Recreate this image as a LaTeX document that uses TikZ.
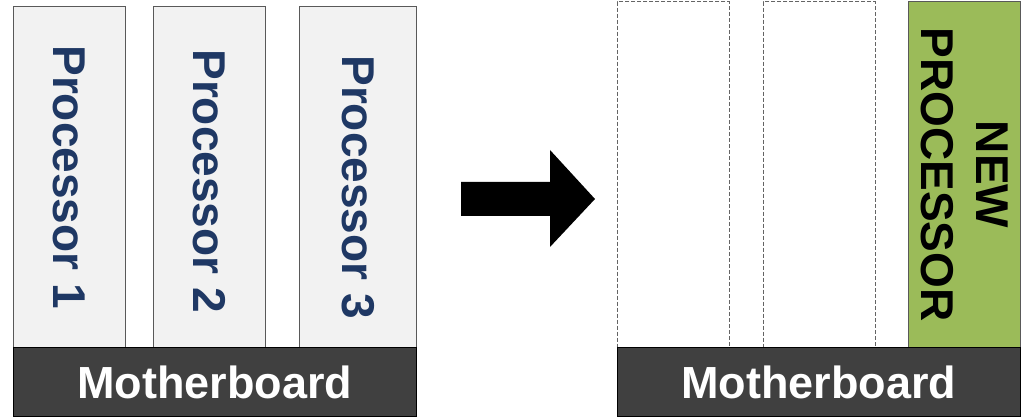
\documentclass[tikz,border=0pt]{standalone}
\usepackage{fontspec}
\setmainfont{Liberation Sans}
\usepackage{tikz}
\usetikzlibrary{positioning}
\definecolor{procgray}{RGB}{242,242,242}
\definecolor{boardgray}{RGB}{64,64,64}
\definecolor{procblue}{RGB}{31,56,100}
\definecolor{newgreen}{RGB}{155,187,89}
\definecolor{edgegray}{RGB}{89,89,89}
\definecolor{dashgray}{RGB}{100,100,100}

\tikzset{
  slot/.style={draw=edgegray, line width=0.8pt, minimum width=112pt, minimum height=341pt, inner sep=0pt, anchor=south west},
  procbox/.style={slot, fill=procgray},
  emptyslot/.style={slot, draw=dashgray, dash pattern=on 4pt off 2pt},
  newbox/.style={slot, fill=newgreen},
  proctext/.style={rotate=-90, font=\bfseries\fontsize{46}{55}\selectfont, text=procblue},
  newtext/.style={rotate=-90, align=center, font=\bfseries\fontsize{46}{55}\selectfont, text=black},
  board/.style={draw=black, line width=0.8pt, fill=boardgray, minimum width=403pt, minimum height=69pt, inner sep=0pt, anchor=south west,
    text=white, font=\bfseries\fontsize{45}{54}\selectfont}
}

\begin{document}
\begin{tikzpicture}[x=1pt, y=1pt]
  \useasboundingbox (0,0) rectangle (1021,417);

  % before: three processors
  \node[procbox] (p1) at (13,69) {};
  \node[procbox] (p2) at (153,69) {};
  \node[procbox, minimum width=117pt] (p3) at (299,69) {};
  \node[proctext] at (p1.center) {Processor 1};
  \node[proctext] at ([yshift=-4pt]p2.center) {Processor 2};
  \node[proctext] at ([yshift=-10pt]p3.center) {Processor 3};
  \node[board] (mb1) at (13,0) {Motherboard};

  % arrow
  \fill[black] (461,201) -- (550,201) -- (550,267) -- (595,218) -- (550,170) -- (550,235) -- (461,235) -- cycle;

  % after: one new processor
  \node[emptyslot, minimum height=346pt] (e1) at (617,69) {};
  \node[emptyslot, minimum height=346pt] (e2) at (763,69) {};
  \node[newbox, minimum height=346pt] (np) at (908,69) {};
  \node[newtext] at (np.center) {NEW\\PROCESSOR};
  \node[board] (mb2) at (617,0) {Motherboard};
\end{tikzpicture}
\end{document}
